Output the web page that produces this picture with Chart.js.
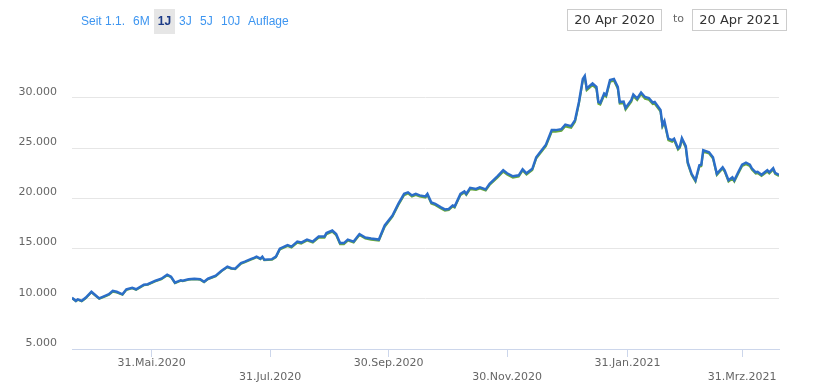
<!DOCTYPE html>
<html lang="de">
<head>
<meta charset="utf-8">
<title>Kursverlauf 1J</title>
<script src="https://cdn.jsdelivr.net/npm/chart.js@4/dist/chart.umd.min.js"></script>
<style>
    html, body { margin: 0; padding: 0; background: #fff; }
    #wrap { position: relative; width: 815px; height: 388px; overflow: hidden; }
    #kursChart { position: absolute; left: 0; top: 0; }
    .range-btn {
        position: absolute; top: 9px; height: 25px;
        font: 12px "Liberation Sans", Arial, sans-serif; line-height: 25px;
        color: #3d95f0;
    }
    .range-btn.active {
        background: #e6e6e6; color: #1b3a86; font-weight: bold;
        text-align: center; width: 21px;
    }
    .date-box {
        position: absolute; top: 9px; width: 93px; height: 20px;
        border: 1px solid #cccccc; box-sizing: content-box;
        font: 13px "DejaVu Sans", sans-serif; line-height: 20px;
        color: #333; text-align: center;
    }
    #toLabel {
        position: absolute; left: 673px; top: 11px;
        font: 11px "DejaVu Sans", sans-serif; line-height: 16px; color: #666;
    }
</style>
</head>
<body>
<div id="wrap">
    <canvas id="kursChart" width="815" height="388"></canvas>
    <span class="range-btn" style="left:81px">Seit 1.1.</span>
    <span class="range-btn" style="left:133px">6M</span>
    <span class="range-btn active" style="left:154px">1J</span>
    <span class="range-btn" style="left:179px">3J</span>
    <span class="range-btn" style="left:200px">5J</span>
    <span class="range-btn" style="left:221px">10J</span>
    <span class="range-btn" style="left:248px">Auflage</span>
    <div class="date-box" style="left:567px">20 Apr 2020</div>
    <span id="toLabel">to</span>
    <div class="date-box" style="left:692px">20 Apr 2021</div>
</div>

<script>
// Tage seit 20.04.2020
const tage = [
    0, 2, 3, 5, 7, 10, 13, 14, 17, 19, 21, 23, 26, 28, 31, 33, 37, 39, 43, 46,
    49, 51, 53, 56, 57, 60, 63, 66, 68, 70, 74, 77, 80, 82, 84, 87, 89, 92, 94,
    95, 97, 98, 99, 103, 105, 107, 111, 113, 116, 118, 121, 124, 127, 130, 131, 134, 136, 138, 140,
    142, 145, 148, 151, 154, 158, 161, 165, 168, 171, 173, 175,
    177, 179, 182, 183, 185, 187, 190, 192, 194, 196, 197, 200, 202, 203, 205, 208, 210, 213, 215, 219,
    222, 224, 227, 230, 232, 234, 237, 239, 241, 244, 247, 249, 252, 254, 257, 259, 261, 263, 264, 265,
    268, 270, 271, 272, 274, 275, 277, 279, 281, 282, 284, 285, 288, 289, 291, 293, 295, 297, 299, 300,
    303, 304, 305, 307, 309, 310, 312, 313, 314, 316, 317, 319, 321, 323, 324, 325, 328, 330, 332, 335,
    336, 338, 340, 341, 343, 345, 347, 349, 350, 352, 353, 355, 358, 359, 361, 362, 364
];

// Kurs (blaue Linie)
const kurs = [
    10100, 9800, 9950, 9800, 10100, 10700, 10200, 10050, 10300, 10450,
    10800, 10700, 10450, 10950, 11100, 10950, 11400, 11450, 11800, 12000,
    12400, 12200, 11600, 11850, 11800, 11950, 12000, 11950, 11700, 12000,
    12300, 12800, 13200, 13050, 13000, 13550, 13700, 13950, 14100,
    14200, 14000, 14200, 13900, 13950, 14200, 15000, 15350, 15200, 15700,
    15600, 15900, 15700, 16200, 16200, 16550, 16800, 16450, 15550, 15550,
    15900, 15700, 16450, 16100, 16000, 15900, 17300, 18300, 19450, 20450,
    20600, 20300,
    20450, 20300, 20200, 20450, 19600, 19450, 19100, 18900, 18950, 19300,
    19200, 20450, 20700, 20450, 21050, 20950, 21100, 20900, 21450, 22200,
    22800, 22500, 22200, 22300, 22900, 22500, 22950, 24100, 24600, 25350,
    26800, 26800, 26900, 27350, 27200, 27800, 29600, 31900, 32200, 30950,
    31450, 31100, 29600, 29500, 30450, 30300, 31800, 31900, 31100, 29600,
    29650, 29000, 29800, 30350, 29950, 30550, 30100, 30000, 29550, 29600,
    28800, 27300, 27700, 25950, 25800, 25950, 25000, 25200, 26000, 25200,
    23600, 22450, 21800, 23300, 23350, 24800, 24600, 24100, 22450, 23100,
    22800, 21800, 22100, 21800, 22600, 23350, 23550, 23350, 23000, 22600,
    22650, 22350, 22800, 22600, 23000, 22550, 22350
];

// Vergleichswert (grüne Linie, knapp unter dem Kurs)
const vergleich = [
    10050, 9760, 9890, 9750, 10040, 10640, 10150, 10000, 10230, 10380,
    10700, 10620, 10390, 10880, 11040, 10890, 11340, 11390, 11740, 11940,
    12340, 12140, 11540, 11790, 11740, 11890, 11940, 11890, 11640, 11940,
    12240, 12740, 13140, 12990, 12940, 13490, 13640, 13890, 14040,
    14140, 13940, 14140, 13840, 13890, 14140, 14900, 15250, 15100, 15590,
    15490, 15790, 15590, 16080, 16090, 16430, 16680, 16330, 15440, 15440,
    15790, 15590, 16330, 15990, 15890, 15790, 17170, 18170, 19320, 20310,
    20480, 20180,
    20330, 20180, 20080, 20320, 19480, 19330, 18980, 18780, 18830, 19180,
    19080, 20320, 20570, 20330, 20920, 20830, 20980, 20780, 21320, 22060,
    22660, 22370, 22070, 22170, 22770, 22370, 22810, 23950, 24450, 25190,
    26630, 26640, 26730, 27170, 27030, 27620, 29420, 31700, 32010, 30770,
    31270, 30920, 29420, 29330, 30270, 30120, 31610, 31710, 30920, 29430,
    29470, 28830, 29620, 30170, 29780, 30370, 29920, 29820, 29380, 29420,
    28630, 27130, 27530, 25780, 25630, 25790, 24850, 25050, 25830, 25040,
    23460, 22310, 21660, 23150, 23210, 24650, 24460, 23960, 22310, 22960,
    22660, 21660, 21960, 21670, 22460, 23210, 23400, 23210, 22860, 22460,
    22510, 22220, 22660, 22470, 22860, 22420, 22220
];

// Achsenbeschriftung
const xTickTage = [41, 102, 163, 224, 286, 345];
const xTickLabels = ['31.Mai.2020', '31.Jul.2020', '30.Sep.2020', '30.Nov.2020', '31.Jan.2021', '31.Mrz.2021'];
const yTicks = [5000, 10000, 15000, 20000, 25000, 30000];

const toPoints = values => tage.map((t, i) => ({ x: t, y: values[i] }));

// Tausenderpunkt wie im Original
const formatDe = v => String(v).replace(/\B(?=(\d{3})+(?!\d))/g, '.');

const labelFont = { family: '"DejaVu Sans", sans-serif', size: 11 };

new Chart(document.getElementById('kursChart'), {
    type: 'line',
    data: {
        datasets: [
            {
                label: 'Kurs',
                data: toPoints(kurs),
                borderColor: '#2b6ec8',
                borderWidth: 2.5,
                pointRadius: 0,
                tension: 0,
                fill: false
            },
            {
                label: 'Vergleich',
                data: toPoints(vergleich),
                borderColor: '#6aaa3a',
                borderWidth: 2,
                pointRadius: 0,
                tension: 0,
                fill: false
            }
        ]
    },
    options: {
        responsive: false,
        animation: false,
        layout: {
            padding: { left: 0, right: 36, top: 49, bottom: 0 }
        },
        plugins: {
            legend: { display: false },
            tooltip: { enabled: false }
        },
        scales: {
            x: {
                type: 'linear',
                min: 0,
                max: 364,
                afterBuildTicks: scale => {
                    scale.ticks = xTickTage.map(v => ({ value: v }));
                },
                afterFit: scale => {
                    scale.height = 39;
                },
                grid: {
                    drawOnChartArea: false,
                    drawTicks: true,
                    tickLength: 8,
                    color: '#ccd6eb'
                },
                border: { display: true, color: '#ccd6eb', width: 1 },
                ticks: {
                    autoSkip: false,
                    maxRotation: 0,
                    minRotation: 0,
                    padding: 0,
                    color: '#666666',
                    font: labelFont,
                    callback: function(value, index) {
                        const label = xTickLabels[index];
                        // versetzte Beschriftung in zwei Reihen
                        return index % 2 === 0 ? [label, ''] : ['', label];
                    }
                }
            },
            y: {
                type: 'linear',
                min: 5000,
                max: 34880,
                afterBuildTicks: scale => {
                    scale.ticks = yTicks.map(v => ({ value: v }));
                },
                afterFit: scale => {
                    scale.width = 72;
                },
                grid: {
                    color: '#e6e6e6',
                    drawTicks: false
                },
                border: { display: false },
                ticks: {
                    padding: 15,
                    labelOffset: -6,
                    color: '#666666',
                    font: labelFont,
                    callback: value => formatDe(value)
                }
            }
        }
    }
});
</script>
</body>
</html>
